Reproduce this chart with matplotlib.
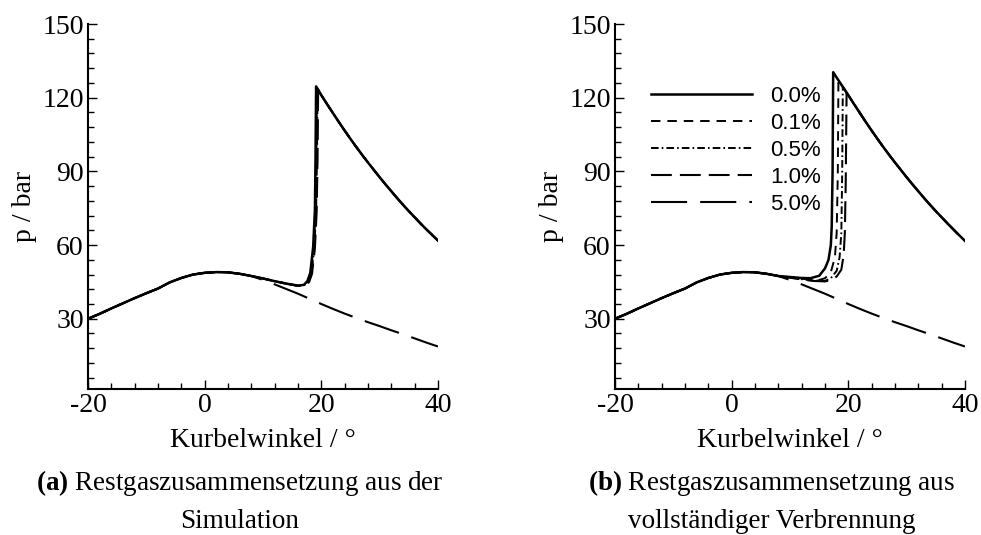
import matplotlib
matplotlib.use("Agg")
import matplotlib.pyplot as plt
from matplotlib.ticker import MultipleLocator

plt.rcParams['font.family'] = ['Liberation Serif', 'DejaVu Serif']
plt.rcParams['mathtext.fontset'] = 'custom'
plt.rcParams['mathtext.rm'] = 'Liberation Serif'
plt.rcParams['mathtext.bf'] = 'Liberation Serif:bold'
plt.rcParams['lines.scale_dashes'] = False

# --- cylinder pressure data (crank angle in deg, pressure in bar) ---
# compression stroke, identical for all cases
theta_comp = [-20, -18, -16, -14, -12, -10, -8, -6, -4, -2, 0, 2, 4, 6, 8]
p_comp = [30.0, 32.0, 34.2, 36.3, 38.4, 40.4, 42.3, 44.8, 46.6, 48.0, 48.7, 49.0, 48.9, 48.3, 47.4]

# 5.0 % residual gas: no ignition, motored curve
theta_mot = [10, 12, 14, 16, 18, 20, 22, 24, 26, 28, 30, 32, 34, 36, 38, 40]
p_mot = [45.8, 44.0, 42.1, 40.2, 38.1, 36.0, 34.0, 32.1, 30.3, 28.6, 27.0, 25.3, 23.7, 22.0, 20.3, 18.7]

# expansion after combustion
theta_exp_a = [20, 21, 22, 23, 24, 25, 26, 27, 28, 29, 30,
               31, 32, 33, 34, 35, 36, 37, 38, 39, 40]
p_exp_a = [121.0, 117.3, 113.7, 110.1, 106.6, 103.2, 99.9, 96.7, 93.6, 90.6, 87.6,
           84.7, 81.9, 79.1, 76.4, 73.8, 71.3, 68.8, 66.4, 64.1, 61.8]
theta_exp_b = [18, 19, 20, 21, 22, 23, 24, 25, 26, 27, 28, 29, 30,
               31, 32, 33, 34, 35, 36, 37, 38, 39, 40]
p_exp_b = [128.2, 124.6, 121.0, 117.3, 113.7, 110.1, 106.6, 103.2, 99.9, 96.7, 93.6, 90.6, 87.6,
           84.7, 81.9, 79.1, 76.4, 73.8, 71.3, 68.8, 66.4, 64.0, 61.7]

labels = ['0.0%', '0.1%', '0.5%', '1.0%', '5.0%']

# (a) residual gas composition from simulation: combustion phase
rise_theta_a = [
    [10, 12, 14, 16, 17, 17.6, 18.1, 18.6, 18.9, 19.0, 19.1],
    [10, 12, 14, 16, 17, 17.7, 18.2, 18.7, 19.0, 19.15, 19.25],
    [10, 12, 14, 16, 17, 17.8, 18.3, 18.8, 19.1, 19.25, 19.35],
    [10, 12, 14, 16, 17, 17.9, 18.4, 18.9, 19.2, 19.35, 19.45],
]
rise_p_a = [
    [46.4, 45.3, 44.3, 43.5, 43.8, 45.3, 48.6, 59.4, 74.4, 95.0, 124.6],
    [46.4, 45.3, 44.3, 43.4, 43.7, 45.1, 48.5, 59.2, 74.2, 95.0, 124.1],
    [46.4, 45.3, 44.3, 43.4, 43.6, 45.0, 48.4, 59.0, 74.0, 95.0, 123.8],
    [46.4, 45.3, 44.3, 43.4, 43.5, 44.9, 48.3, 58.8, 73.8, 95.0, 123.4],
]

# (b) residual gas composition from complete combustion
rise_theta_b = [
    [10, 12, 13.5, 15, 16, 16.6, 17.0, 17.15, 17.3, 17.4],
    [10, 12, 14, 15, 16, 17, 17.7, 18.0, 18.2, 18.3],
    [10, 12, 14, 16, 17, 18, 18.5, 18.8, 18.95, 19.05],
    [10, 12, 14, 16, 17, 18, 18.8, 19.2, 19.4, 19.55, 19.7],
]
rise_p_b = [
    [47.0, 46.6, 46.5, 47.5, 50.5, 54.0, 60.0, 67.6, 90.0, 130.4],
    [46.9, 46.3, 45.9, 45.8, 46.5, 49.0, 55.0, 65.0, 90.0, 127.1],
    [46.8, 46.1, 45.6, 45.4, 46.5, 49.5, 55.0, 65.0, 90.0, 124.4],
    [46.7, 46.0, 45.4, 45.2, 45.7, 47.2, 50.0, 56.0, 65.0, 85.0, 122.1],
]

x_ticks = [-20, 0, 20, 40]
x_tick_labels = ['-20', '0', '20', '40']
y_ticks = [30, 60, 90, 120, 150]

# line styles (solid, short dash, dash-dot, long dash, longer dash)
styles = [
    dict(linestyle='-', linewidth=1.8),
    dict(linestyle=(0, (6.8, 5.0)), linewidth=1.4),
    dict(linestyle=(0, (5.5, 2.2, 1.2, 2.2)), linewidth=1.4),
    dict(linestyle=(0, (15, 5.8)), linewidth=1.5),
    dict(linestyle=(0, (26, 9.4)), linewidth=1.5),
]


def draw_panel(ax, rise_theta, rise_p, theta_exp, p_exp):
    for i in range(4):
        t_end = rise_theta[i][-1]
        tail_t = [t for t in theta_exp if t > t_end]
        tail_p = [p for t, p in zip(theta_exp, p_exp) if t > t_end]
        th = theta_comp + rise_theta[i] + tail_t
        pp = p_comp + rise_p[i] + tail_p
        ax.plot(th, pp, color='black', label=labels[i], **styles[i])
    # misfiring case follows the motored curve
    ax.plot(theta_comp + theta_mot, p_comp + p_mot, color='black',
            label=labels[4], **styles[4])

    ax.set_xlim(-20, 40)
    ax.set_ylim(1.4, 150)
    ax.set_xticks(x_ticks, labels=x_tick_labels)
    ax.set_yticks(y_ticks)
    ax.xaxis.set_minor_locator(MultipleLocator(4))
    ax.yaxis.set_minor_locator(MultipleLocator(6))
    ax.tick_params(which='both', direction='in', width=1, labelsize=20, top=False, right=False)
    ax.tick_params(which='major', length=6.5, pad=3)
    ax.tick_params(which='minor', length=4)
    for side in ('top', 'right'):
        ax.spines[side].set_visible(False)
    for side in ('left', 'bottom'):
        ax.spines[side].set_linewidth(1.5)
    ax.set_xlabel('Kurbelwinkel / °', fontsize=20, labelpad=7)
    ax.set_ylabel('p / bar', fontsize=20, va='center')
    ax.yaxis.set_label_coords(-0.18, 0.5)


fig = plt.figure(figsize=(9.81, 5.35), dpi=100)
ax_a = fig.add_axes([0.0897, 0.2729, 0.3568, 0.6822])
ax_b = fig.add_axes([0.6269, 0.2729, 0.3568, 0.6822])

draw_panel(ax_a, rise_theta_a, rise_p_a, theta_exp_a, p_exp_a)
draw_panel(ax_b, rise_theta_b, rise_p_b, theta_exp_b, p_exp_b)

ax_b.legend(loc='upper left', bbox_to_anchor=(0.103, 0.831), frameon=False,
            prop={'family': 'Liberation Sans', 'size': 16}, handlelength=4.55,
            handletextpad=0.8, labelspacing=0.27, borderpad=0, borderaxespad=0)

# sub-figure captions
fig.text(0.244, 0.097, r'$\mathbf{(a)}$ Restgaszusammensetzung aus der', ha='center', va='center', fontsize=19.5)
fig.text(0.244, 0.026, 'Simulation', ha='center', va='center', fontsize=19.5)
fig.text(0.787, 0.097, r'$\mathbf{(b)}$ Restgaszusammensetzung aus', ha='center', va='center', fontsize=19.5)
fig.text(0.787, 0.026, 'vollständiger Verbrennung', ha='center', va='center', fontsize=19.5)

fig.savefig('out.png', dpi=100)
